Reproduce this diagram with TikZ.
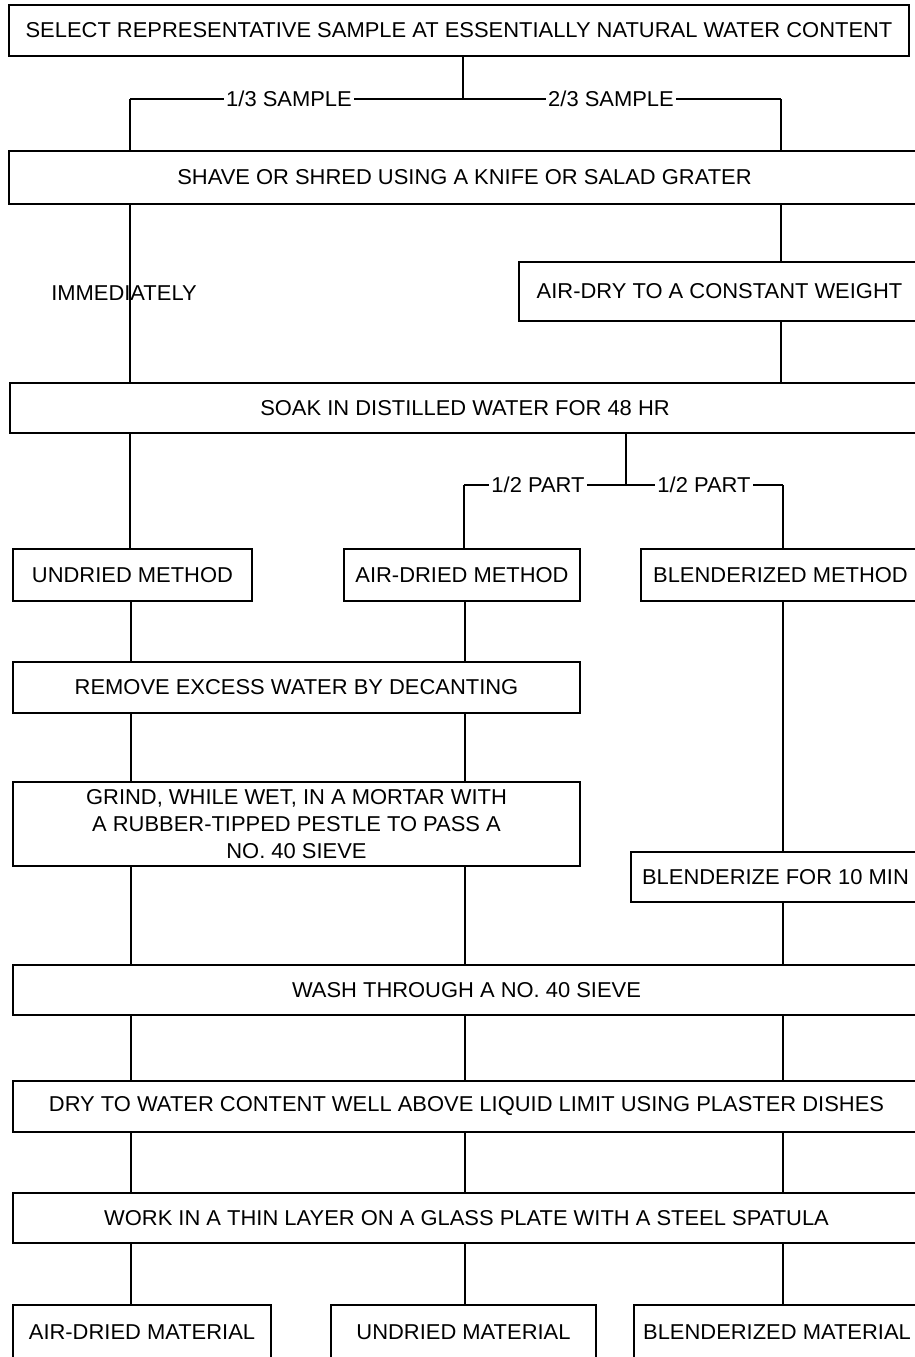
\documentclass[tikz,border=0pt]{standalone}
\usepackage{fontspec}
\setmainfont{Liberation Sans}[FakeStretch=1.02]
\newcommand{\fs}{\fontsize{21.5}{27}\selectfont}
\begin{document}
\begin{tikzpicture}[x=1pt,y=-1pt,
  box/.style={draw, line width=1.8pt, inner sep=0pt, align=center, font=\fs},
  ln/.style={line width=1.5pt},
  lbl/.style={fill=white, inner xsep=2pt, inner ysep=1pt, font=\fs},
  free/.style={inner sep=0pt, font=\fs}]
\useasboundingbox (0,0) rectangle (914,1357);
% boxes
\node[box, minimum width=900, minimum height=51] (b1) at (459,30.5) {SELECT REPRESENTATIVE SAMPLE AT ESSENTIALLY NATURAL WATER CONTENT};
\node[box, minimum width=911, minimum height=53] (b2) at (464.5,177.5) {SHAVE OR SHRED USING A KNIFE OR SALAD GRATER};
\node[box, minimum width=401, minimum height=59] (airdry) at (719.5,291.5) {AIR-DRY TO A CONSTANT WEIGHT};
\node[box, minimum width=910, minimum height=50] (soak) at (465,408) {SOAK IN DISTILLED WATER FOR 48 HR};
\node[box, minimum width=239, minimum height=52] (undm) at (132.5,575) {UNDRIED METHOD};
\node[box, minimum width=236, minimum height=52] (airm) at (462,575) {AIR-DRIED METHOD};
\node[box, minimum width=279, minimum height=52] (blm) at (780.5,575) {BLENDERIZED METHOD};
\node[box, minimum width=567, minimum height=51] (remove) at (296.5,687.5) {REMOVE EXCESS WATER BY DECANTING};
\node[box, minimum width=567, minimum height=84] (grind) at (296.5,824) {GRIND, WHILE WET, IN A MORTAR WITH\\A RUBBER-TIPPED PESTLE TO PASS A\\NO. 40 SIEVE};
\node[box, minimum width=289, minimum height=50] (blz) at (775.5,877) {BLENDERIZE FOR 10 MIN};
\node[box, minimum width=907, minimum height=50] (wash) at (466.5,990) {WASH THROUGH A NO. 40 SIEVE};
\node[box, minimum width=907, minimum height=51] (dry) at (466.5,1106.5) {DRY TO WATER CONTENT WELL ABOVE LIQUID LIMIT USING PLASTER DISHES};
\node[box, minimum width=907, minimum height=50] (work) at (466.5,1218) {WORK IN A THIN LAYER ON A GLASS PLATE WITH A STEEL SPATULA};
\node[box, minimum width=258, minimum height=54] (adm) at (142,1332) {AIR-DRIED MATERIAL};
\node[box, minimum width=265, minimum height=54] (udm) at (463.5,1332) {UNDRIED MATERIAL};
\node[box, minimum width=286, minimum height=54] (bdm) at (777,1332) {BLENDERIZED MATERIAL};
% columns and junctions
\coordinate (cA) at (131,0);
\coordinate (cB) at (465,0);
\coordinate (cC) at (783,0);
\coordinate (j1) at (463,99);
\coordinate (jL) at (130,99);
\coordinate (jR) at (781,99);
\coordinate (j2) at (626,485);
\coordinate (j2L) at (464,485);
\coordinate (j2R) at (783,485);
% connectors
\draw[ln] (b1.south -| j1) -- (j1);
\draw[ln] (jL) -- (jR);
\draw[ln] (jL) -- (b2.north -| jL);
\draw[ln] (jR) -- (b2.north -| jR);
\draw[ln] (b2.south -| jL) -- (soak.north -| jL);
\draw[ln] (b2.south -| jR) -- (airdry.north -| jR);
\draw[ln] (airdry.south -| jR) -- (soak.north -| jR);
\draw[ln] (soak.south -| j2) -- (j2);
\draw[ln] (j2L) -- (j2R);
\draw[ln] (j2L) -- (airm.north -| j2L);
\draw[ln] (j2R) -- (blm.north -| j2R);
\draw[ln] (soak.south -| jL) -- (undm.north -| jL);
\draw[ln] (undm.south -| cA) -- (remove.north -| cA);
\draw[ln] (airm.south -| cB) -- (remove.north -| cB);
\draw[ln] (remove.south -| cA) -- (grind.north -| cA);
\draw[ln] (remove.south -| cB) -- (grind.north -| cB);
\draw[ln] (grind.south -| cA) -- (wash.north -| cA);
\draw[ln] (grind.south -| cB) -- (wash.north -| cB);
\draw[ln] (blm.south -| cC) -- (blz.north -| cC);
\draw[ln] (blz.south -| cC) -- (wash.north -| cC);
\draw[ln] (wash.south -| cA) -- (dry.north -| cA);
\draw[ln] (wash.south -| cB) -- (dry.north -| cB);
\draw[ln] (wash.south -| cC) -- (dry.north -| cC);
\draw[ln] (dry.south -| cA) -- (work.north -| cA);
\draw[ln] (dry.south -| cB) -- (work.north -| cB);
\draw[ln] (dry.south -| cC) -- (work.north -| cC);
\draw[ln] (work.south -| cA) -- (adm.north -| cA);
\draw[ln] (work.south -| cB) -- (udm.north -| cB);
\draw[ln] (work.south -| cC) -- (bdm.north -| cC);
% labels
\node[lbl] (s13) at (289,99) {1/3 SAMPLE};
\node[lbl] (s23) at (611,99) {2/3 SAMPLE};
\node[lbl] (p1) at (538,485) {1/2 PART};
\node[lbl] (p2) at (704,485) {1/2 PART};
\node[free] (imm) at (124,293) {IMMEDIATELY};
\end{tikzpicture}
\end{document}
